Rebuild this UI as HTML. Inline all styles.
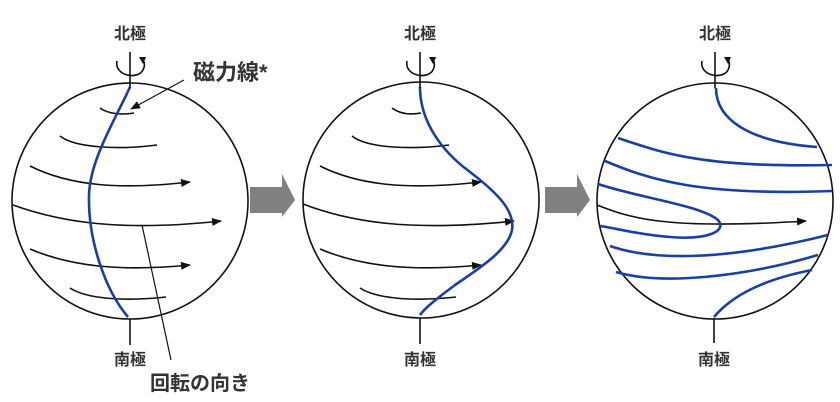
<!DOCTYPE html>
<html><head><meta charset="utf-8"><style>
html,body{margin:0;padding:0;background:#fff;}
svg{display:block}
text{font-family:"Liberation Sans","Noto Sans CJK JP",sans-serif;fill:#222}
.p{font-weight:bold;fill:#333}
</style></head><body>
<svg width="840" height="402" viewBox="0 0 840 402" xmlns="http://www.w3.org/2000/svg">
<defs>
<marker id="ah" markerWidth="10" markerHeight="8" refX="9" refY="4" orient="auto" markerUnits="userSpaceOnUse">
<path d="M0,0 L10,4 L0,8 Z" fill="#111"/></marker>
<g id="rot">
<line x1="0" y1="52" x2="0" y2="88" stroke="#111" stroke-width="1.6"/>
<path d="M-13,61 C-16,76 8,80 13,70 C15,66 15,63 13,60" fill="none" stroke="#111" stroke-width="1.6"/>
<path d="M9,57 L16,57 L13,64 Z" fill="#111"/>
</g>
</defs>
<path d="M250,187 L282,187 L282,174 L295,200 L282,217 L282,213 L250,213 Z" fill="#808080"/>
<path d="M545,187 L577,187 L577,174 L590,200 L577,217 L577,213 L545,213 Z" fill="#808080"/>

<g fill="none" stroke="#111" stroke-width="1.6">
<circle cx="130" cy="201" r="118"/>
<path d="M100,108 C108,114 122,115 134,113"/>
<path d="M60,136 C75,148 120,150 157,145"/>
<path d="M30,166 C70,186 120,190 190,182" marker-end="url(#ah)"/>
<path d="M13,205 C60,222 120,232 221,221" marker-end="url(#ah)"/>
<path d="M30,249 C70,266 120,272 190,265" marker-end="url(#ah)"/>
<path d="M70,288 C85,298 120,302 166,297"/>
<line x1="130" y1="319" x2="130" y2="345"/>
<path d="M184,80 L131,109" marker-end="url(#ah)" stroke-width="1.2"/>
<line x1="142" y1="225" x2="171" y2="360" stroke-width="1.2"/>
</g>
<path d="M130,87 C115,120 90,160 89,195 C88,240 105,290 128,317" fill="none" stroke="#1a3fa0" stroke-width="2.6"/>
<use href="#rot" x="130"/>
<text class="p" x="130" y="39" font-size="16" text-anchor="middle">北極</text>
<text class="p" x="130" y="365" font-size="16" text-anchor="middle">南極</text>
<text class="p" x="193" y="80" font-size="22">磁力線*</text>
<text class="p" x="150" y="390" font-size="20">回転の向き</text>

<g fill="none" stroke="#111" stroke-width="1.6">
<circle cx="421" cy="200" r="118"/>
<path d="M392,108 C400,114 410,115 421,113"/>
<path d="M352,136 C367,148 410,150 449,145"/>
<path d="M320,166 C360,186 410,190 481,182" marker-end="url(#ah)"/>
<path d="M303,204 C350,222 410,232 514,221" marker-end="url(#ah)"/>
<path d="M320,249 C360,266 410,272 481,265" marker-end="url(#ah)"/>
<path d="M360,288 C375,298 410,302 456,297"/>
<line x1="420" y1="318" x2="420" y2="344"/>
</g>
<path d="M420,87 C420,120 440,150 470,172 C500,195 515,212 512,230 C508,250 480,268 455,285 C435,300 425,308 420,315" fill="none" stroke="#1a3fa0" stroke-width="2.6"/>
<use href="#rot" x="420"/>
<text class="p" x="420" y="39" font-size="16" text-anchor="middle">北極</text>
<text class="p" x="420" y="365" font-size="16" text-anchor="middle">南極</text>

<g fill="none" stroke="#111" stroke-width="1.6">
<circle cx="715" cy="201" r="118"/>
<path d="M597,205 C630,218 665,230 806,221" marker-end="url(#ah)"/>
<line x1="714" y1="318" x2="714" y2="343"/>
</g>
<g fill="none" stroke="#1a3fa0" stroke-width="2.6">
<path d="M716,88 C716,120 750,142 817,147"/>
<path d="M618,138 C660,152 700,168 832,165"/>
<path d="M605,161 C650,180 700,196 832,191"/>
<path d="M598,184 C640,198 700,205 718,220 C728,232 705,240 670,237 C640,235 615,228 600,226"/>
<path d="M610,246 C650,260 720,262 828,235"/>
<path d="M616,272 C660,285 740,278 818,255"/>
<path d="M714,317 C730,298 760,280 812,270"/>
</g>
<use href="#rot" x="715"/>
<text class="p" x="715" y="39" font-size="16" text-anchor="middle">北極</text>
<text class="p" x="714" y="365" font-size="16" text-anchor="middle">南極</text>
</svg>
</body></html>
